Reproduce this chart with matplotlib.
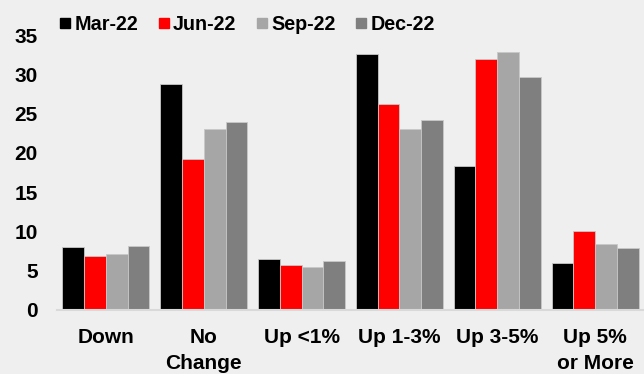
import matplotlib
matplotlib.use("Agg")
import matplotlib.pyplot as plt
from matplotlib.lines import Line2D
import numpy as np

categories = ["Down", "No\nChange", "Up <1%", "Up 1-3%", "Up 3-5%", "Up 5%\nor More"]
series_names = ["Mar-22", "Jun-22", "Sep-22", "Dec-22"]
mar_22 = [8.0, 28.8, 6.4, 32.6, 18.3, 5.9]
jun_22 = [6.8, 19.2, 5.7, 26.2, 32.0, 10.0]
sep_22 = [7.1, 23.0, 5.4, 23.1, 32.9, 8.4]
dec_22 = [8.1, 23.9, 6.2, 24.2, 29.7, 7.9]
y_ticks = [0, 5, 10, 15, 20, 25, 30, 35]

series = [mar_22, jun_22, sep_22, dec_22]
colors = ["#000000", "#FF0000", "#A6A6A6", "#7F7F7F"]
bg = "#EFEFEF"
fs_axis = 15
fs_leg = 14.2

plt.rcParams["font.family"] = ["Liberation Sans", "DejaVu Sans"]
plt.rcParams["font.weight"] = "bold"

fig = plt.figure(figsize=(6.44, 3.74), dpi=100, facecolor=bg)
ax = fig.add_axes([57 / 644, 1 - 309.5 / 374, 587 / 644, (309.5 - 35.5) / 374])
ax.set_facecolor(bg)

x = np.arange(len(categories))
group_w = 0.89
bw = group_w / len(series)
for i, (vals, c) in enumerate(zip(series, colors)):
    ax.bar(x - group_w / 2 + bw * (i + 0.5), vals, width=bw, color=c,
           edgecolor="#C8C8C8", linewidth=0.6, label=series_names[i], zorder=2)

ax.set_xlim(-0.5, len(categories) - 0.5)
ax.set_ylim(0, 35)
ax.set_yticks(y_ticks)
ax.set_yticklabels([str(t) for t in y_ticks], fontsize=fs_axis, fontweight="bold")
ax.set_xticks(x)
ax.set_xticklabels(categories, fontsize=fs_axis, fontweight="bold", linespacing=1.5)
ax.tick_params(axis="y", length=0, pad=14)
ax.tick_params(axis="x", length=0, pad=13)
for s in ["top", "right", "left"]:
    ax.spines[s].set_visible(False)
ax.spines["bottom"].set_color("#D9D9D9")
ax.spines["bottom"].set_linewidth(1.5)

handles = [Line2D([], [], marker="s", linestyle="none", markersize=7.5,
                  markerfacecolor=c, markeredgecolor=c) for c in colors]
leg = fig.legend(handles, series_names, loc="center left", ncol=4,
                 bbox_to_anchor=(58 / 644, 1 - 24.5 / 374), frameon=False,
                 prop={"size": fs_leg, "weight": "bold"},
                 handlelength=0.7, handletextpad=0.12, columnspacing=0.95,
                 borderaxespad=0, borderpad=0)

fig.savefig("out.png", dpi=100, facecolor=bg)
